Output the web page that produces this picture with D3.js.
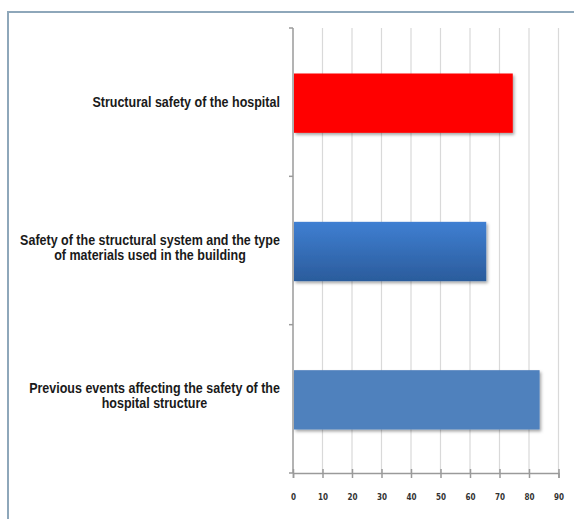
<!DOCTYPE html>
<meta charset="utf-8">
<style>
  body { margin: 0; background: #fff; }
  svg text { font-family: "Liberation Sans", Arial, sans-serif; }
</style>
<svg width="574" height="519"></svg>

<script src="https://d3js.org/d3.v7.min.js"></script>
<script>

// data, top to bottom
var categories = [
  ["Structural safety of the hospital"],
  ["Safety of the structural system and the type", "of materials used in the building"],
  ["Previous events affecting the safety of the", "hospital structure"]
]
var values = [74.5, 65.5, 83.6]
var barColors = ["red", "grad", "#4f81bd"]
var xTicks = [0, 10, 20, 30, 40, 50, 60, 70, 80, 90]

var svg = d3.select('svg')

// drop shadow + gradient for the middle bar
var defs = svg.append('defs')
var shadow = defs.append('filter').attr('id', 'shadow')
  .attr('x', '-5%').attr('y', '-10%').attr('width', '115%').attr('height', '130%')
shadow.append('feDropShadow')
  .attr('dx', 1.5).attr('dy', 2).attr('stdDeviation', 1.5)
  .attr('flood-color', '#000').attr('flood-opacity', 0.35)
var grad = defs.append('linearGradient').attr('id', 'blueGrad')
  .attr('x1', 0).attr('y1', 0).attr('x2', 0).attr('y2', 1)
grad.append('stop').attr('offset', '0%').attr('stop-color', '#3f7fd2')
grad.append('stop').attr('offset', '100%').attr('stop-color', '#2b5c9c')

// outer frame
svg.append('rect')
  .attr('x', 8).attr('y', 12).attr('width', 600).attr('height', 560)
  .attr('fill', '#fff').attr('stroke', '#8ea7ba').attr('stroke-width', 2)

// "top" is window.top, so use other names
var plotLeft = 293, plotRight = 558.5, plotTop = 28, plotBottom = 473

var x = d3.scaleLinear().domain([0, 90]).range([plotLeft, plotRight])
var y = d3.scaleBand().domain(d3.range(categories.length)).range([plotTop, plotBottom]).padding(0)

// grid lines
svg.append('g').selectAll('line')
  .data(xTicks.slice(1))
  .enter().append('line')
    .attr('x1', function (d) { return x(d) }).attr('x2', function (d) { return x(d) })
    .attr('y1', plotTop).attr('y2', plotBottom)
    .attr('stroke', '#d9d9d9').attr('stroke-width', 1.2)

// x axis
var xAxis = svg.append('g')
  .attr('transform', 'translate(0,' + plotBottom + ')')
  .call(d3.axisBottom(x).tickValues(xTicks).tickSize(5).tickPadding(16))
xAxis.select('.domain').attr('stroke', '#9a9a9a').attr('stroke-width', 1.5)
xAxis.selectAll('.tick line').attr('stroke', '#9a9a9a').attr('stroke-width', 1.5).attr('y1', -4)
xAxis.selectAll('.tick text')
  .attr('font-size', 8).attr('font-weight', 'bold').attr('fill', '#333')
  .style('font-family', '"DejaVu Sans Condensed", sans-serif')

// y axis
svg.append('line')
  .attr('x1', plotLeft).attr('x2', plotLeft).attr('y1', plotTop).attr('y2', plotBottom)
  .attr('stroke', '#9a9a9a').attr('stroke-width', 1.5)
var catEdges = [plotTop].concat(d3.range(categories.length).map(function (i) { return y(i) + y.bandwidth() }))
svg.append('g').selectAll('line')
  .data(catEdges)
  .enter().append('line')
    .attr('x1', plotLeft - 4).attr('x2', plotLeft)
    .attr('y1', function (d) { return d }).attr('y2', function (d) { return d })
    .attr('stroke', '#9a9a9a').attr('stroke-width', 1.5)

// bars
var barH = y.bandwidth() * 0.4
svg.append('g').selectAll('rect')
  .data(values)
  .enter().append('rect')
    .attr('x', x(0) + 1)
    .attr('y', function (d, i) { return y(i) + (y.bandwidth() - barH) / 2 + 1 })
    .attr('width', function (d) { return x(d) - x(0) - 1 })
    .attr('height', barH)
    .attr('fill', function (d, i) { return barColors[i] === 'grad' ? 'url(#blueGrad)' : barColors[i] })
    .attr('filter', 'url(#shadow)')

// category labels: block right-aligned, lines centred inside the block.
// no narrow Calibri-like font here, so squeeze horizontally to the reference width
var labelRight = 280
var probe = svg.append('text').attr('font-size', 14).attr('font-weight', 'bold')
  .text(categories[1][0])
var squeeze = 260 / probe.node().getComputedTextLength()
probe.remove()

categories.forEach(function (lines, i) {
  var cy = y(i) + y.bandwidth() / 2 - (lines.length - 1) * 3
  var texts = svg.append('g').selectAll('text').data(lines).enter().append('text')
    .text(function (d) { return d })
    .attr('font-size', 14)
    .attr('font-weight', 'bold')
    .attr('fill', '#1a1a1a')
    .attr('text-anchor', 'middle')
    .attr('dy', '0.35em')
  var w = d3.max(texts.nodes(), function (n) { return n.getComputedTextLength() }) * squeeze
  texts.attr('transform', function (d, j) {
    var ty = cy + (j - (lines.length - 1) / 2) * 15
    return 'translate(' + (labelRight - w / 2) + ',' + ty + ') scale(' + squeeze + ',1)'
  })
})
</script>
